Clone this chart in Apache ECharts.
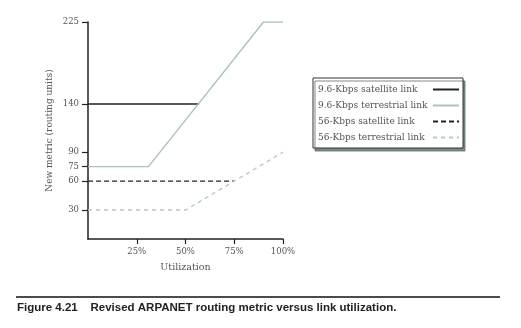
<!DOCTYPE html>
<html>
<head>
<meta charset="utf-8">
<style>
html,body{margin:0;padding:0;background:#fff;}
#c{width:521px;height:328px;}
</style>
<script src="https://cdn.jsdelivr.net/npm/echarts@6/dist/echarts.min.js"></script>
</head>
<body>
<div id="c"></div>
<script>
// ---- data ----
const seriesNames = ['9.6-Kbps satellite link', '9.6-Kbps terrestrial link', '56-Kbps satellite link', '56-Kbps terrestrial link'];
const sat96 = [[0, 140], [57, 140]];
const terr96 = [[0, 75], [31, 75], [90, 225], [100, 225]];
const sat56 = [[0, 60], [75, 60]];
const terr56 = [[0, 30], [50, 30], [75, 60], [100, 90]];
const xTicks = [25, 50, 75, 100];
const yTicks = [30, 60, 75, 90, 140, 225];
const xTitle = 'Utilization';
const yTitle = 'New metric (routing units)';
const caption = 'Figure 4.21    Revised ARPANET routing metric versus link utilization.';

const serif = '"DejaVu Serif", "Liberation Serif", serif';
const sans = '"Liberation Sans", Arial, sans-serif';
const dark = '#222';
const light = '#a9c2c2';
const lighter = '#b4caca';

const chart = echarts.init(document.getElementById('c'), null, {renderer: 'canvas'});
chart.setOption({
  backgroundColor: '#fff',
  animation: false,
  grid: {left: 88, right: 238, top: 22, bottom: 89},
  xAxis: {
    type: 'value', min: 0, max: 100,
    name: xTitle, nameLocation: 'middle', nameGap: 24,
    nameTextStyle: {fontFamily: serif, fontSize: 9.5, color: '#555'},
    axisLine: {show: true, lineStyle: {color: dark, width: 1.5}},
    axisTick: {show: true, customValues: xTicks, length: 5, lineStyle: {color: dark, width: 1.2}},
    axisLabel: {customValues: xTicks, formatter: v => v + '%', fontFamily: serif, fontSize: 8.5, color: '#555', margin: 8},
    splitLine: {show: false}
  },
  yAxis: {
    type: 'value', min: 0, max: 225,
    name: yTitle, nameLocation: 'middle', nameGap: 34, nameRotate: 90,
    nameTextStyle: {fontFamily: serif, fontSize: 9, color: '#555'},
    axisLine: {show: true, lineStyle: {color: dark, width: 1.5}},
    axisTick: {show: true, customValues: yTicks, length: 6, lineStyle: {color: dark, width: 1.2}},
    axisLabel: {customValues: yTicks, fontFamily: serif, fontSize: 8.5, color: '#555', margin: 9},
    splitLine: {show: false}
  },
  legend: {
    orient: 'vertical', left: 313, top: 78,
    align: 'right',
    data: seriesNames,
    itemWidth: 26, itemHeight: 8, itemGap: 7,
    padding: [7, 3, 6, 5],
    borderColor: '#333', borderWidth: 1,
    backgroundColor: '#fff',
    shadowColor: 'rgba(90,110,110,0.8)', shadowBlur: 0, shadowOffsetX: 2, shadowOffsetY: 3,
    itemStyle: {opacity: 0},
    formatter: n => '{a|' + n + '}',
    textStyle: {
      fontFamily: serif, fontSize: 9, color: '#555',
      rich: {a: {width: 110, align: 'left', fontFamily: serif, fontSize: 9, color: '#555'}}
    }
  },
  series: [
    {name: seriesNames[0], type: 'line', data: sat96, symbol: 'none', lineStyle: {color: dark, width: 1.3}, itemStyle: {color: dark}},
    {name: seriesNames[1], type: 'line', data: terr96, symbol: 'none', lineStyle: {color: light, width: 1.4}, itemStyle: {color: light}},
    {name: seriesNames[2], type: 'line', data: sat56, symbol: 'none', lineStyle: {color: dark, width: 1.4, type: [5, 3]}, itemStyle: {color: dark}},
    {name: seriesNames[3], type: 'line', data: terr56, symbol: 'none', lineStyle: {color: lighter, width: 1.4, type: [4, 4]}, itemStyle: {color: lighter}}
  ],
  graphic: [
    {type: 'line', shape: {x1: 16, y1: 297, x2: 500, y2: 297}, style: {stroke: '#111', lineWidth: 1.3}},
    {type: 'text', left: 17, top: 302, style: {text: caption, font: 'bold 11.5px ' + sans, fill: '#222'}}
  ]
});
</script>
</body>
</html>
